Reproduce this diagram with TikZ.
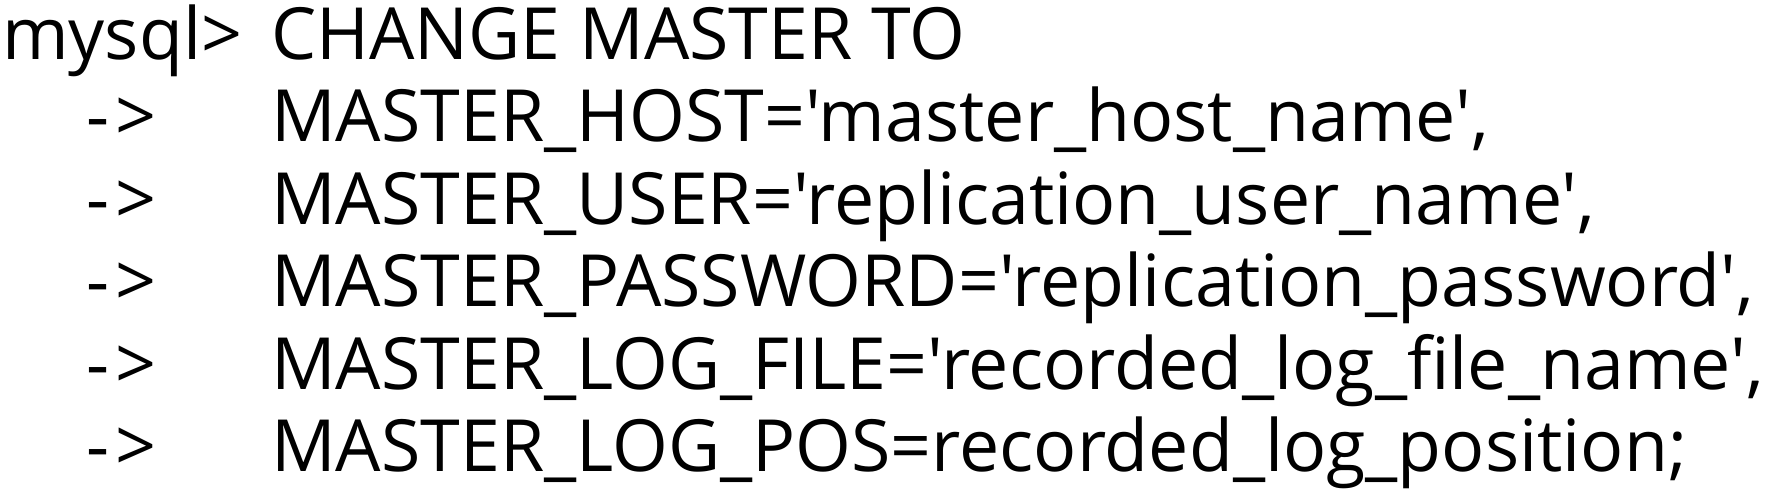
\documentclass[tikz,border=0pt]{standalone}
\usepackage{fontspec}
\newfontfamily\codefont{Open Sans}[Ligatures=TeXOff]
\newsavebox\refbox
\AtBeginDocument{\sbox\refbox{\codefont\fontsize{72}{80}\selectfont MASTER\_PASSWORD='replication\_password',}}
\begin{document}
\begin{tikzpicture}[x=1pt,y=1pt,
  codeline/.style={anchor=base west, inner sep=0pt, font=\codefont\fontsize{72}{80}\selectfont}]
\fill[white] (0,0) rectangle (1766,-500);
\useasboundingbox (0,0) rectangle (1766,-500);
\pgfmathsetmacro\sx{1483/\wd\refbox}
\node[codeline] (p1) at (2,-59.3) {\scalebox{\sx}[1]{mysql>}};
\node[codeline] (t1) at (271,-59.3) {\scalebox{\sx}[1]{CHANGE MASTER TO}};
\node[codeline] (p2) at (86,-141.7) {\scalebox{\sx}[1]{-\kern6pt>}};
\node[codeline] (t2) at (271,-141.7) {\scalebox{\sx}[1]{MASTER\_HOST='master\_host\_name',}};
\node[codeline] (p3) at (86,-224) {\scalebox{\sx}[1]{-\kern6pt>}};
\node[codeline] (t3) at (271,-224) {\scalebox{\sx}[1]{MASTER\_USER='replication\_user\_name',}};
\node[codeline] (p4) at (86,-306.5) {\scalebox{\sx}[1]{-\kern6pt>}};
\node[codeline] (t4) at (271,-306.5) {\scalebox{\sx}[1]{MASTER\_PASSWORD='replication\_password',}};
\node[codeline] (p5) at (86,-389) {\scalebox{\sx}[1]{-\kern6pt>}};
\node[codeline] (t5) at (271,-389) {\scalebox{\sx}[1]{MASTER\_LOG\_FILE='recorded\_log\_file\_name',}};
\node[codeline] (p6) at (86,-471.5) {\scalebox{\sx}[1]{-\kern6pt>}};
\node[codeline] (t6) at (271,-471.5) {\scalebox{\sx}[1]{MASTER\_LOG\_POS=recorded\_log\_position;}};
\end{tikzpicture}
\end{document}
